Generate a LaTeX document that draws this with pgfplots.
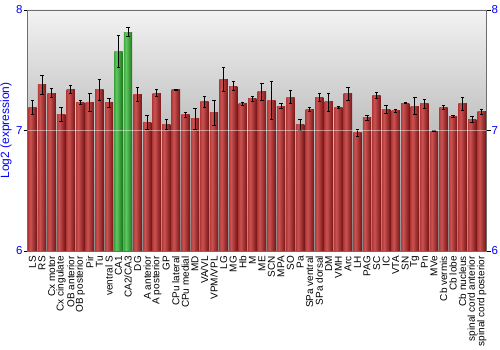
\documentclass[border=0pt]{standalone}
\usepackage{pgfplots}
\pgfplotsset{compat=1.18}
\usepackage{fontspec}
\setmainfont{Liberation Sans}
\definecolor{redA}{RGB}{182,60,60}
\definecolor{redB}{RGB}{204,82,82}
\definecolor{redC}{RGB}{118,22,22}
\definecolor{grnA}{RGB}{66,168,66}
\definecolor{grnB}{RGB}{96,200,96}
\definecolor{grnC}{RGB}{26,116,26}
\definecolor{axgray}{RGB}{110,110,110}
\definecolor{tickblue}{RGB}{0,0,255}
\pgfdeclarehorizontalshading{redbar}{100bp}{color(0bp)=(redA); color(25bp)=(redA); color(37bp)=(redB); color(75bp)=(redC); color(100bp)=(redC)}
\pgfdeclarehorizontalshading{grnbar}{100bp}{color(0bp)=(grnA); color(25bp)=(grnA); color(37bp)=(grnB); color(75bp)=(grnC); color(100bp)=(grnC)}
\pgfplotsset{
  barbase/.style={ybar, bar shift=0pt, bar width=0.87, draw=none, shade,
    error bars/y dir=both, error bars/y explicit,
    error bars/error bar style={black, line width=0.8bp},
    error bars/error mark options={black, rotate=90, mark size=1.7bp, line width=0.8bp}},
}
% one plot per bar so that each bar gets its own shading
\newcommand{\rbar}[3]{\addplot[barbase, shading=redbar] coordinates {(#1,#2) +- (0,#3)};}
\newcommand{\gbar}[3]{\addplot[barbase, shading=grnbar] coordinates {(#1,#2) +- (0,#3)};}

\begin{document}
\begin{tikzpicture}
\useasboundingbox (-27.7bp,-99bp) rectangle (472.3bp,251bp);
\begin{axis}[
  at={(0,0)}, anchor=south west,
  scale only axis, width=458.8bp, height=241bp,
  xmin=-0.5, xmax=47.5, ymin=6, ymax=8,
  axis background/.style={shade, top color=black!5, bottom color=black!45},
  axis line style={draw=axgray, line width=0.8bp},
  xtick={0,...,47},
  xticklabels={LS,RS,Cx motor,Cx cingulate,OB anterior,OB posterior,Pir,Tu,ventral S,CA1,CA2/CA3,DG,A anterior,A posterior,GP,CPu lateral,CPu medial,MD,VA/VL,VPM/VPL,LG,MG,Hb,M,ME,SCN,MPA,SO,Pa,SPa ventral,SPa dorsal,DM,VMH,Arc,LH,PAG,SC,IC,VTA,SN,Tg,Pn,MVe,Cb vermis,Cb lobe,Cb nucleus,spinal cord anterior,spinal cord posterior},
  x tick label style={rotate=90, anchor=east, font=\fontsize{10bp}{11bp}\selectfont, inner sep=1bp},
  x tick style={draw=none},
  ytick={6,7,8}, yticklabels={6,7,8},
  ytick pos=left, yticklabel pos=left,
  tick align=outside, major tick length=4bp,
  y tick style={draw=black, line width=0.8bp},
  y tick label style={text=tickblue, font=\fontsize{11.5bp}{12bp}\selectfont, inner xsep=1bp},
  ylabel={Log2 (expression)},
  ylabel style={text=tickblue, font=\fontsize{12bp}{13bp}\selectfont},
  axis on top,
]
\rbar{0}{7.19}{0.056}
\rbar{1}{7.38}{0.08}
\rbar{2}{7.31}{0.036}
\rbar{3}{7.13}{0.058}
\rbar{4}{7.34}{0.036}
\rbar{5}{7.23}{0.017}
\rbar{6}{7.234}{0.073}
\rbar{7}{7.34}{0.088}
\rbar{8}{7.23}{0.04}
\gbar{9}{7.657}{0.13}
\gbar{10}{7.817}{0.036}
\rbar{11}{7.30}{0.06}
\rbar{12}{7.064}{0.059}
\rbar{13}{7.31}{0.03}
\rbar{14}{7.05}{0.045}
\rbar{15}{7.34}{0.005}
\rbar{16}{7.129}{0.02}
\rbar{17}{7.097}{0.087}
\rbar{18}{7.237}{0.043}
\rbar{19}{7.147}{0.103}
\rbar{20}{7.425}{0.098}
\rbar{21}{7.369}{0.037}
\rbar{22}{7.22}{0.015}
\rbar{23}{7.264}{0.02}
\rbar{24}{7.32}{0.07}
\rbar{25}{7.25}{0.155}
\rbar{26}{7.203}{0.022}
\rbar{27}{7.278}{0.054}
\rbar{28}{7.05}{0.046}
\rbar{29}{7.176}{0.017}
\rbar{30}{7.275}{0.03}
\rbar{31}{7.237}{0.075}
\rbar{32}{7.192}{0.01}
\rbar{33}{7.303}{0.054}
\rbar{34}{6.98}{0.03}
\rbar{35}{7.104}{0.022}
\rbar{36}{7.292}{0.022}
\rbar{37}{7.176}{0.03}
\rbar{38}{7.164}{0.014}
\rbar{39}{7.226}{0.005}
\rbar{40}{7.203}{0.072}
\rbar{41}{7.22}{0.04}
\rbar{42}{6.995}{0.005}
\rbar{43}{7.192}{0.017}
\rbar{44}{7.118}{0.008}
\rbar{45}{7.22}{0.052}
\rbar{46}{7.093}{0.025}
\rbar{47}{7.154}{0.022}
\draw[white, opacity=0.45, line width=0.8bp] (axis description cs:0,0.5) -- (axis description cs:1,0.5);
\end{axis}
\begin{axis}[
  at={(0,0)}, anchor=south west,
  scale only axis, width=458.8bp, height=241bp,
  xmin=-0.5, xmax=47.5, ymin=6, ymax=8,
  hide x axis, axis y line*=right,
  axis line style={draw=axgray, line width=0.8bp},
  ytick={6,7,8}, yticklabels={6,7,8},
  tick align=outside, major tick length=4bp,
  y tick style={draw=black, line width=0.8bp},
  y tick label style={text=tickblue, font=\fontsize{11.5bp}{12bp}\selectfont, inner xsep=1bp},
]
\end{axis}
\end{tikzpicture}
\end{document}
